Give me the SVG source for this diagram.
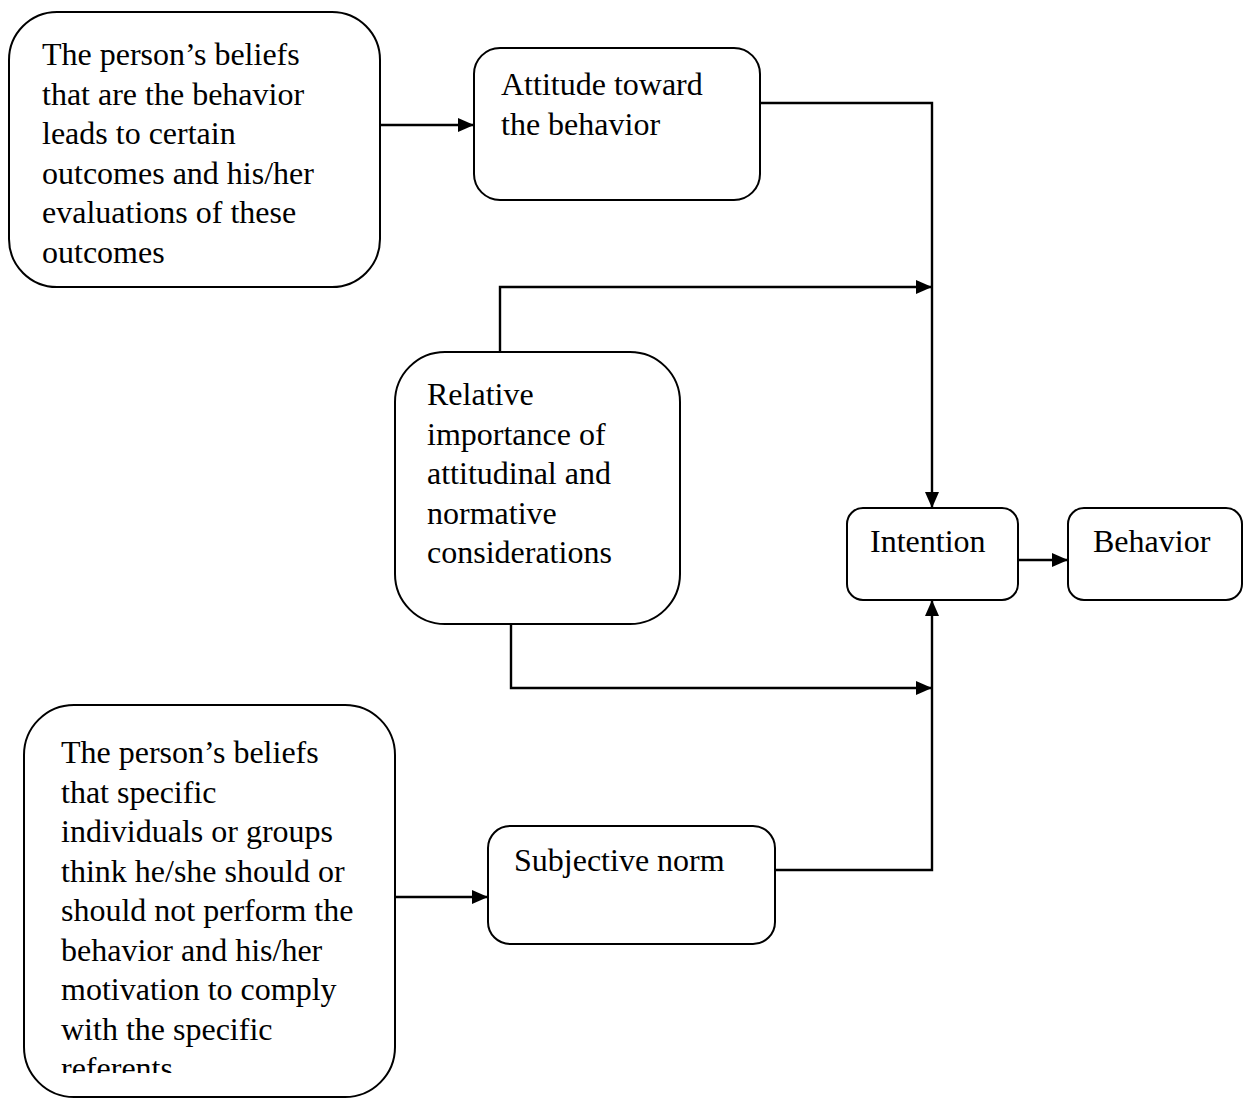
<svg xmlns="http://www.w3.org/2000/svg" width="1244" height="1098" viewBox="0 0 1244 1098">
<style>
.box{fill:#fff;stroke:#000;stroke-width:2}
.t{font-family:"Liberation Serif","Times New Roman",serif;font-size:32px;fill:#000}
.c{fill:none;stroke:#000;stroke-width:2.4}
</style>
<defs>
<marker id="ah" markerUnits="userSpaceOnUse" markerWidth="18" markerHeight="16" refX="16" refY="7" orient="auto">
<path d="M0,0 L16,7 L0,14 z" fill="#000"/>
</marker>
<clipPath id="clipB"><rect x="0" y="700" width="420" height="373"/></clipPath>
</defs>
<rect width="1244" height="1098" fill="#fff"/>
<g id="connectors">
<path class="c" d="M380,125 H474" marker-end="url(#ah)"/>
<path class="c" d="M760,103 H932 V508" marker-end="url(#ah)"/>
<path class="c" d="M500,352 V287 H932" marker-end="url(#ah)"/>
<path class="c" d="M511,624 V688 H932" marker-end="url(#ah)"/>
<path class="c" d="M775,870 H932 V600" marker-end="url(#ah)"/>
<path class="c" d="M395,897 H488" marker-end="url(#ah)"/>
<path class="c" d="M1018,560 H1068" marker-end="url(#ah)"/>
</g>
<g id="beliefs-outcomes">
<rect class="box" x="9" y="12" width="371" height="275" rx="48"/>
<text class="t" x="42" y="65">The person’s beliefs</text>
<text class="t" x="42" y="104.5">that are the behavior</text>
<text class="t" x="42" y="144">leads to certain</text>
<text class="t" x="42" y="183.5">outcomes and his/her</text>
<text class="t" x="42" y="223">evaluations of these</text>
<text class="t" x="42" y="262.5">outcomes</text>
</g>
<g id="attitude">
<rect class="box" x="474" y="48" width="286" height="152" rx="26"/>
<text class="t" x="501" y="95">Attitude toward</text>
<text class="t" x="501" y="134.5">the behavior</text>
</g>
<g id="relative-importance">
<rect class="box" x="395" y="352" width="285" height="272" rx="50"/>
<text class="t" x="427" y="405">Relative</text>
<text class="t" x="427" y="444.5">importance of</text>
<text class="t" x="427" y="484">attitudinal and</text>
<text class="t" x="427" y="523.5">normative</text>
<text class="t" x="427" y="563">considerations</text>
</g>
<g id="intention">
<rect class="box" x="847" y="508" width="171" height="92" rx="16"/>
<text class="t" x="870" y="552">Intention</text>
</g>
<g id="behavior">
<rect class="box" x="1068" y="508" width="174" height="92" rx="16"/>
<text class="t" x="1093" y="552">Behavior</text>
</g>
<g id="beliefs-referents">
<rect class="box" x="24" y="705" width="371" height="392" rx="50"/>
<g clip-path="url(#clipB)">
<text class="t" x="61" y="763">The person’s beliefs</text>
<text class="t" x="61" y="802.5">that specific</text>
<text class="t" x="61" y="842">individuals or groups</text>
<text class="t" x="61" y="881.5">think he/she should or</text>
<text class="t" x="61" y="921">should not perform the</text>
<text class="t" x="61" y="960.5">behavior and his/her</text>
<text class="t" x="61" y="1000">motivation to comply</text>
<text class="t" x="61" y="1039.5">with the specific</text>
<text class="t" x="61" y="1079">referents</text>
</g>
</g>
<g id="subjective-norm">
<rect class="box" x="488" y="826" width="287" height="118" rx="22"/>
<text class="t" x="514" y="871">Subjective norm</text>
</g>
</svg>
